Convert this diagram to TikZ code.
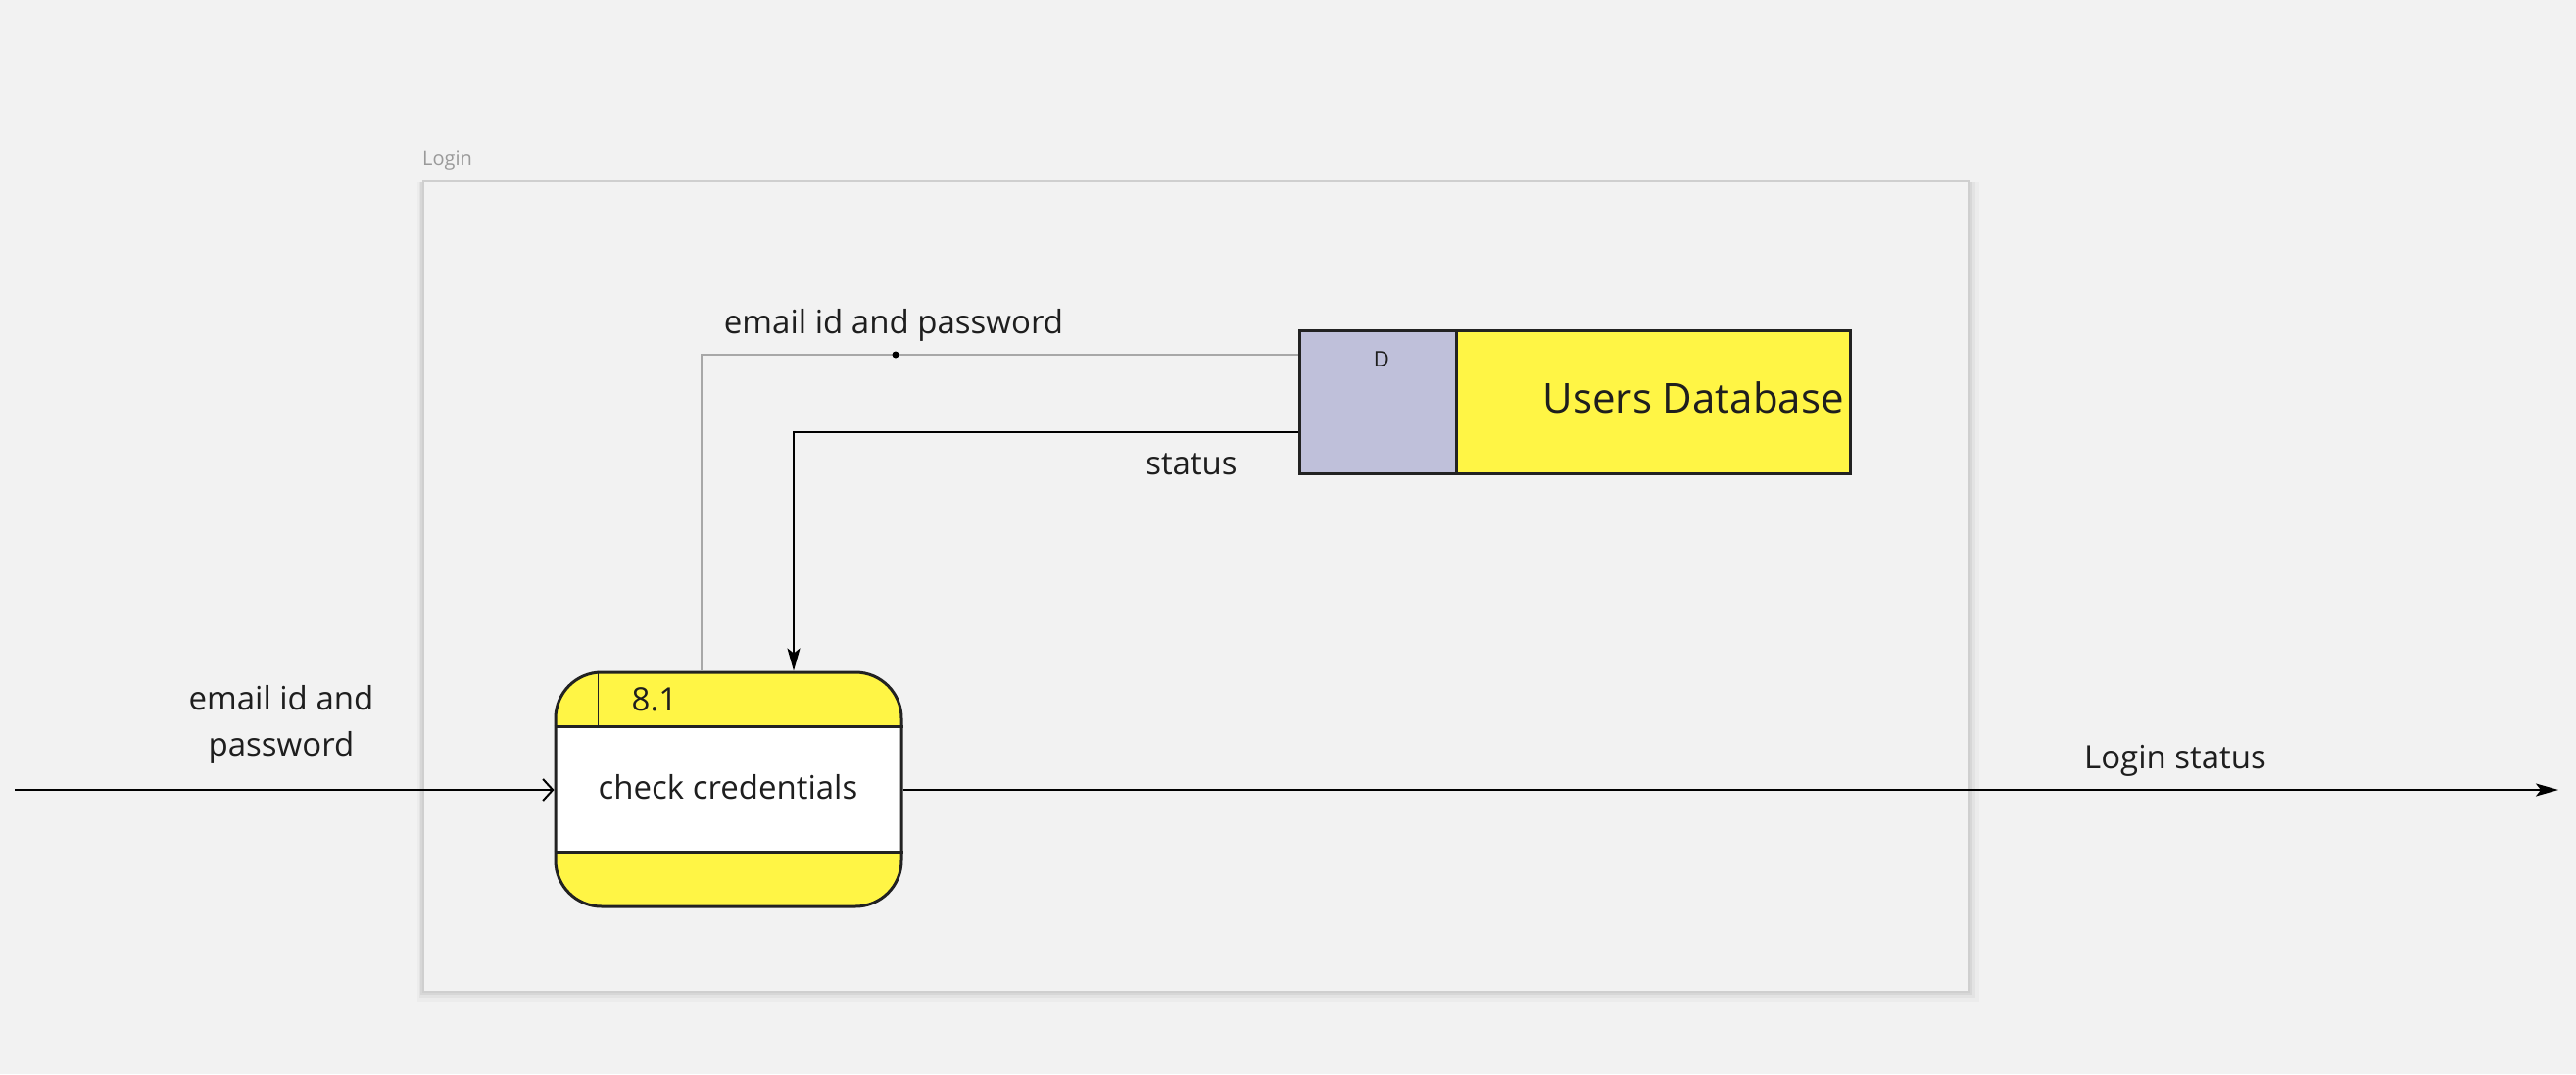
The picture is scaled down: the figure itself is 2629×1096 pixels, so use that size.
\documentclass[tikz,border=0pt]{standalone}
\usepackage{fontspec}
\setmainfont{Open Sans}
\usetikzlibrary{arrows.meta}
\definecolor{bgc}{HTML}{F2F2F2}
\definecolor{dyellow}{HTML}{FFF545}
\definecolor{dpurple}{HTML}{BFC0DA}
\definecolor{linec}{HTML}{222222}
\definecolor{framec}{HTML}{CFCFCF}
\definecolor{glinec}{HTML}{A8A8A8}
\definecolor{txtc}{HTML}{1E1E1E}
\definecolor{flabelc}{HTML}{9A9A9A}
\begin{document}
\begin{tikzpicture}[x=1pt,y=-1pt,
  lbl/.style={font=\fontsize{33}{47}\selectfont, text=txtc, inner sep=0pt},
  frm/.style={draw=framec, line width=2pt, fill=bgc, minimum width=1578pt, minimum height=827pt, anchor=north west, inner sep=0pt},
  procbox/.style={draw=linec, line width=3pt, fill=white, rounded corners=47pt, minimum width=353pt, minimum height=239pt, inner sep=0pt,
    path picture={
      \fill[dyellow, sharp corners] (path picture bounding box.north west) rectangle ([yshift=-57pt]path picture bounding box.north east);
      \fill[dyellow, sharp corners] (path picture bounding box.south west) rectangle ([yshift=57pt]path picture bounding box.south east);
    }},
  dsid/.style={draw=linec, line width=3pt, fill=dpurple, minimum width=160pt, minimum height=146pt, inner sep=0pt},
  dsname/.style={draw=linec, line width=3pt, fill=dyellow, minimum width=402pt, minimum height=146pt, inner sep=0pt},
  bline/.style={draw=black, line width=2pt},
  gline/.style={draw=glinec, line width=2pt},
  fill tip/.style={-{Stealth[length=23pt,width=13pt,inset=5pt]}},
  open tip/.style={-{Straight Barb[length=10pt,width=22pt,line width=2pt]}}
]
\useasboundingbox[fill=bgc] (0,0) rectangle (2629,1096);

% frame shadow
\fill[black, opacity=0.025] (426,186) rectangle (2020,1022);
\fill[black, opacity=0.035] (428,186) rectangle (2016,1018);
\fill[black, opacity=0.05] (429,186) rectangle (2013,1015);
\node[frm] (frame) at (431,184) {};
\node[anchor=west, inner sep=0pt, font=\fontsize{20}{24}\selectfont, text=flabelc] (flabel) at (431,164) {Login};

% process
\node[procbox] (proc) at (743.5,805.5) {};
\draw[linec, line width=3pt] ([yshift=-57pt]proc.north west) -- ([yshift=-57pt]proc.north east);
\draw[linec, line width=3pt] ([yshift=57pt]proc.south west) -- ([yshift=57pt]proc.south east);
\draw[linec, line width=1.5pt] ([xshift=45pt]proc.north west) -- ([xshift=45pt,yshift=-57pt]proc.north west);
\node[lbl] (pid) at (668,714) {8.1};
\node[lbl] (pname) at (743,803) {check credentials};

% data store
\node[dsid] (dsid) at (1406,410) {};
\node[dsname] (dsname) at (1687,410) {};
\node[inner sep=0pt, font=\fontsize{22}{26}\selectfont, text=txtc] (dsidt) at (1410,367) {D};
\node[anchor=east, inner sep=0pt, font=\fontsize{42}{50}\selectfont, text=txtc] (dsnamet) at (1882,406) {Users Database};

% flows
\coordinate (e1) at (716,362);
\draw[gline] (e1 |- proc.north) -- (e1) -- (e1 -| dsid.west);
\node[circle, fill=black, inner sep=0pt, minimum size=7pt] (edot) at (914,362) {};
\node[lbl] (elbl) at (912,332) {email id and password};

\coordinate (s1) at (810,441);
\draw[bline, fill tip] (s1 -| dsid.west) -- (s1) -- (s1 |- proc.north);
\node[lbl] (slbl) at (1216,474) {status};

\coordinate (inA) at (15,806);
\draw[bline, open tip] (inA) -- (inA -| proc.west);
\node[lbl, align=center] (inlbl) at (287,739) {email id and\\password};

\coordinate (outB) at (2611,806);
\draw[bline, fill tip] (proc.east |- outB) -- (outB);
\node[lbl] (outlbl) at (2220,776) {Login status};
\end{tikzpicture}
\end{document}
